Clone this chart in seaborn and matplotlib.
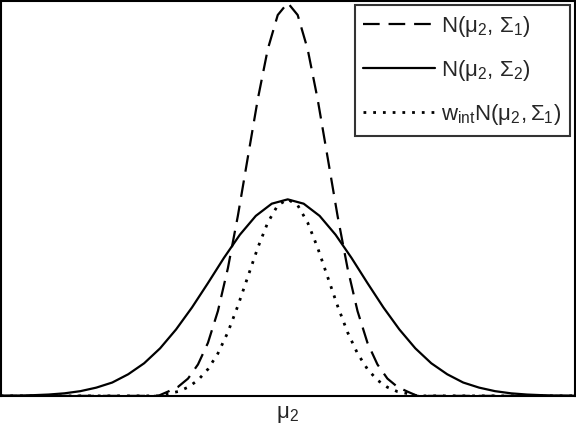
import matplotlib
matplotlib.use("Agg")
import matplotlib.pyplot as plt
import seaborn as sns

# x positions (units of the narrow std dev, mu_2 at 0)
x_narrow = [-7.2, -3.25, -3.0, -2.75, -2.5, -2.25, -2.0, -1.75, -1.5, -1.25, -1.0, -0.75, -0.5, -0.25,
            0.0, 0.25, 0.5, 0.75, 1.0, 1.25, 1.5, 1.75, 2.0, 2.25, 2.5, 2.75, 3.0, 3.25, 7.2]
# N(mu_2, Sigma_1), dashed
y_dashed = [0.0, 0.0, 0.011, 0.023, 0.044, 0.080, 0.135, 0.216, 0.325, 0.458, 0.607, 0.755, 0.882, 0.969,
            1.000, 0.969, 0.882, 0.755, 0.607, 0.458, 0.325, 0.216, 0.135, 0.080, 0.044, 0.023, 0.011, 0.0, 0.0]
# w_int N(mu_2, Sigma_1), dotted
y_dotted = [0.0, 0.0, 0.006, 0.011, 0.022, 0.040, 0.068, 0.108, 0.162, 0.229, 0.303, 0.377, 0.441, 0.485,
            0.500, 0.485, 0.441, 0.377, 0.303, 0.229, 0.162, 0.108, 0.068, 0.040, 0.022, 0.011, 0.006, 0.0, 0.0]

x_wide = [-7.2, -6.8, -6.4, -6.0, -5.6, -5.2, -4.8, -4.4, -4.0, -3.6, -3.2, -2.8, -2.4, -2.0, -1.6, -1.2, -0.8, -0.4,
          0.0, 0.4, 0.8, 1.2, 1.6, 2.0, 2.4, 2.8, 3.2, 3.6, 4.0, 4.4, 4.8, 5.2, 5.6, 6.0, 6.4, 6.8, 7.2]
# N(mu_2, Sigma_2), solid
y_solid = [0.0004, 0.0008, 0.0017, 0.0034, 0.0065, 0.012, 0.021, 0.034, 0.055, 0.083, 0.121, 0.169, 0.225, 0.287,
           0.351, 0.410, 0.458, 0.489, 0.500, 0.489, 0.458, 0.410, 0.351, 0.287, 0.225, 0.169, 0.121, 0.083,
           0.055, 0.034, 0.021, 0.012, 0.0065, 0.0034, 0.0017, 0.0008, 0.0004]

labels = [r"$\mathrm{N(\mu_2,\,\Sigma_1)}$",
          r"$\mathrm{N(\mu_2,\,\Sigma_2)}$",
          r"$\mathrm{w_{int}N(\mu_2,\Sigma_1)}$"]
tick_label = r"$\mathrm{\mu_2}$"

sns.set_style("white")
plt.rcParams["font.family"] = ["Liberation Sans", "DejaVu Sans"]
plt.rcParams["mathtext.fontset"] = "custom"
plt.rcParams["mathtext.rm"] = "Liberation Sans"
plt.rcParams["mathtext.it"] = "Liberation Sans"
plt.rcParams["mathtext.bf"] = "Liberation Sans:bold"

fig = plt.figure(figsize=(5.76, 4.36), dpi=100)
ax = fig.add_axes([0.001, 0.092, 0.997, 0.906])

sns.lineplot(x=x_narrow, y=y_dashed, ax=ax, color="black", linewidth=1.6,
             linestyle=(0, (7.5, 4)), label=labels[0])
sns.lineplot(x=x_wide, y=y_solid, ax=ax, color="black", linewidth=1.6,
             linestyle="-", label=labels[1])
sns.lineplot(x=x_narrow, y=y_dotted, ax=ax, color="black", linewidth=2.0,
             linestyle=(0, (1, 2.5)), label=labels[2])

ax.set_xlim(-7.2, 7.2)
ax.set_ylim(0, 1.005)
ax.set_yticks([])
ax.set_xticks([0.0])
ax.set_xticklabels([tick_label], fontsize=16)
ax.tick_params(axis="x", direction="in", length=4, width=1.2, color="black", pad=6)
for s in ax.spines.values():
    s.set_color("black")
    s.set_linewidth(1.5)

leg = ax.legend(loc="upper right", fontsize=16, handlelength=3.2, handletextpad=0.3,
                labelspacing=0.85, borderaxespad=0.2, borderpad=0.4, fancybox=False,
                frameon=True, edgecolor="black")
leg.get_frame().set_linewidth(1.5)

fig.savefig("out.png", dpi=100)
